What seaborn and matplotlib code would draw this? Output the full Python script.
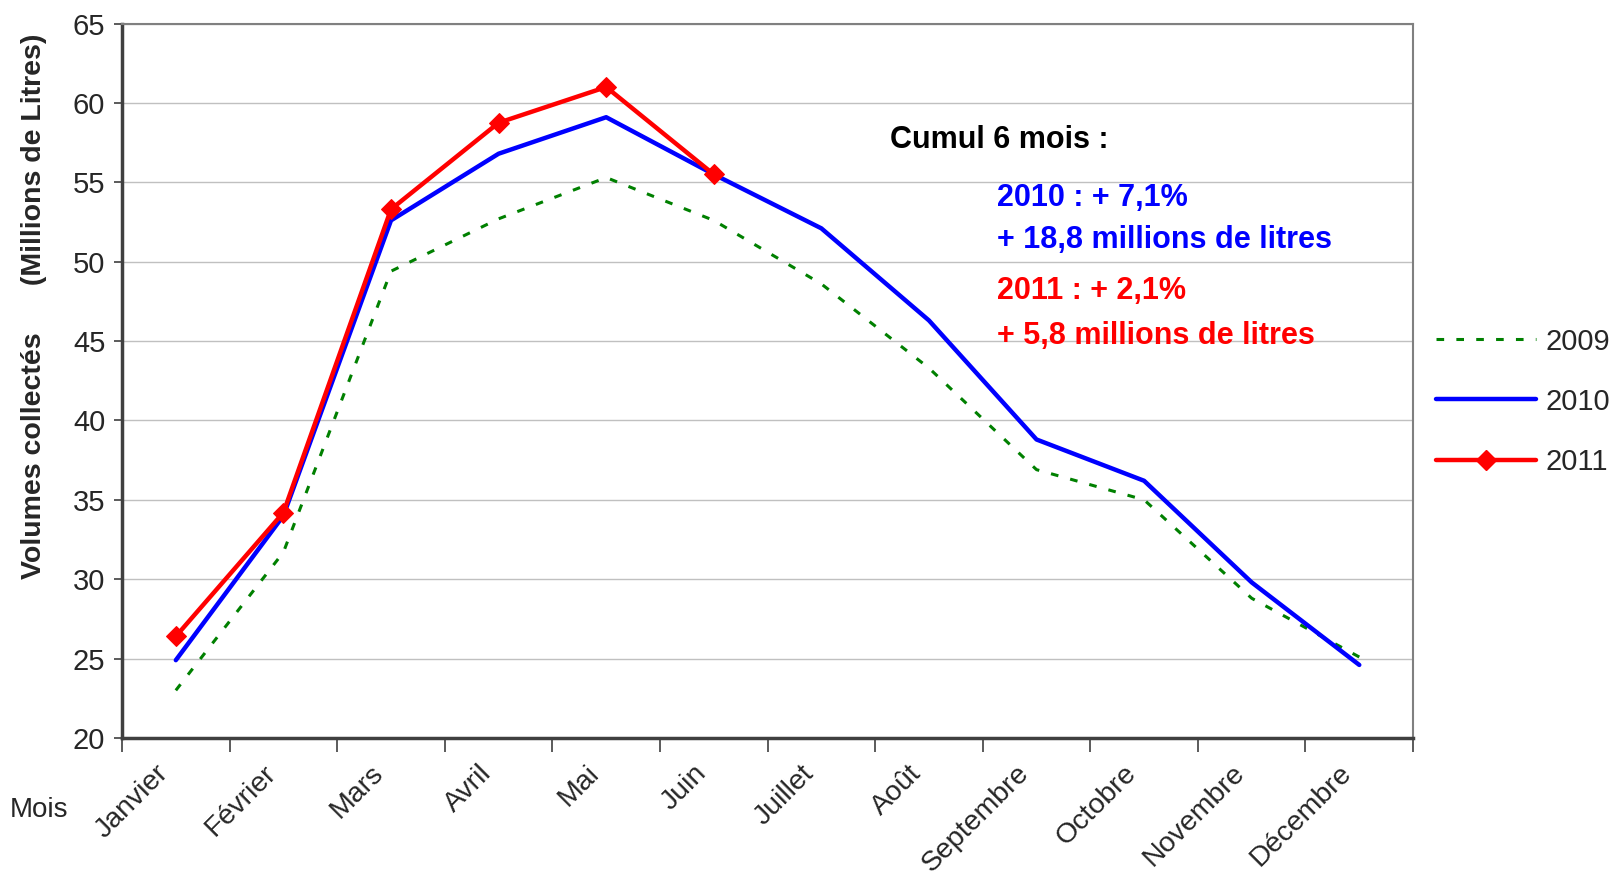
import pandas as pd
import seaborn as sns
import matplotlib.pyplot as plt
from matplotlib.lines import Line2D

mois = ['Janvier', 'Février', 'Mars', 'Avril', 'Mai', 'Juin', 'Juillet',
        'Août', 'Septembre', 'Octobre', 'Novembre', 'Décembre']
# volumes collectés (millions de litres)
v2009 = [23.0, 31.7, 49.4, 52.7, 55.3, 52.6, 48.6, 43.3, 36.9, 35.0, 28.8, 25.1]
v2010 = [24.9, 34.0, 52.6, 56.8, 59.1, 55.5, 52.1, 46.3, 38.8, 36.2, 29.8, 24.6]
v2011 = [26.4, 34.2, 53.3, 58.75, 61.0, 55.5]

sns.set_theme(style="white")
plt.rcParams['font.family'] = ['Liberation Sans', 'DejaVu Sans']

df = pd.concat([
    pd.DataFrame({'mois': mois, 'volume': v2009, 'annee': '2009'}),
    pd.DataFrame({'mois': mois, 'volume': v2010, 'annee': '2010'}),
    pd.DataFrame({'mois': mois[:6], 'volume': v2011, 'annee': '2011'}),
], ignore_index=True)
df['x'] = df['mois'].map({m: i for i, m in enumerate(mois)})

fig = plt.figure(figsize=(16.12, 8.75), dpi=100)
ax = fig.add_axes([0.0757, 0.1566, 0.8009, 0.8165])

sns.lineplot(data=df[df.annee == '2009'], x='x', y='volume', ax=ax,
             color='#008000', linewidth=2.2, linestyle=(0, (2.5, 4)))
sns.lineplot(data=df[df.annee == '2010'], x='x', y='volume', ax=ax,
             color='#0000FF', linewidth=3.2)
sns.lineplot(data=df[df.annee == '2011'], x='x', y='volume', ax=ax,
             color='#FF0000', linewidth=3.2, marker='D', markersize=10,
             markeredgecolor='#FF0000')

ax.set_xlim(-0.5, 11.5)
ax.set_ylim(20, 65)
ax.set_yticks(range(20, 66, 5))
ax.set_xticks([i - 0.5 for i in range(13)])
ax.set_xticklabels([])
# libellés des mois légèrement décalés vers la gauche
ax.set_xticks([i - 0.19 for i in range(12)], minor=True)
ax.set_xticklabels(mois, minor=True, rotation=45, ha='right',
                   rotation_mode='anchor', fontsize=20.5)
ax.tick_params(axis='x', which='major', direction='out', length=10,
               width=1.2, color='#404040', bottom=True)
ax.tick_params(axis='x', which='minor', length=0, pad=16)
ax.tick_params(axis='y', direction='out', length=6, width=1.2,
               color='#404040', left=True, labelsize=21, pad=6)
ax.yaxis.grid(True, color='#c0c0c0', linewidth=1)
ax.set_axisbelow(True)
for side in ['top', 'right']:
    ax.spines[side].set_color('#808080')
    ax.spines[side].set_linewidth(1.5)
for side in ['left', 'bottom']:
    ax.spines[side].set_color('#404040')
    ax.spines[side].set_linewidth(2.5)

ax.set_xlabel('')
ax.set_ylabel('')
fig.text(0.021, 0.65, 'Volumes collectés      (Millions de Litres)',
         fontsize=20.5, fontweight='bold', rotation=90, ha='center',
         va='center')
fig.text(0.006, 0.074, 'Mois', fontsize=20, ha='left', va='center')

tx = fig.transFigure
ax.text(0.552, 0.8405, 'Cumul 6 mois :', transform=tx, va='center',
        fontsize=22, fontweight='bold', color='black')
ax.text(0.6187, 0.7735, '2010 : + 7,1%', transform=tx, va='center',
        fontsize=22, fontweight='bold', color='#0000FF')
ax.text(0.6187, 0.7255, '+ 18,8 millions de litres', transform=tx,
        va='center', fontsize=22, fontweight='bold', color='#0000FF')
ax.text(0.6187, 0.6675, '2011 : + 2,1%', transform=tx, va='center',
        fontsize=22, fontweight='bold', color='#FF0000')
ax.text(0.6187, 0.6165, '+ 5,8 millions de litres', transform=tx,
        va='center', fontsize=22, fontweight='bold', color='#FF0000')

handles = [
    Line2D([], [], color='#008000', linewidth=2.2, linestyle=(0, (2.5, 4))),
    Line2D([], [], color='#0000FF', linewidth=3.2),
    Line2D([], [], color='#FF0000', linewidth=3.2, marker='D', markersize=10),
]
fig.legend(handles, ['2009', '2010', '2011'], loc='center left',
           bbox_to_anchor=(0.882, 0.541), frameon=False, fontsize=21,
           handlelength=3.4, handletextpad=0.35, labelspacing=1.1,
           borderpad=0)

fig.savefig('out.png', dpi=100)
